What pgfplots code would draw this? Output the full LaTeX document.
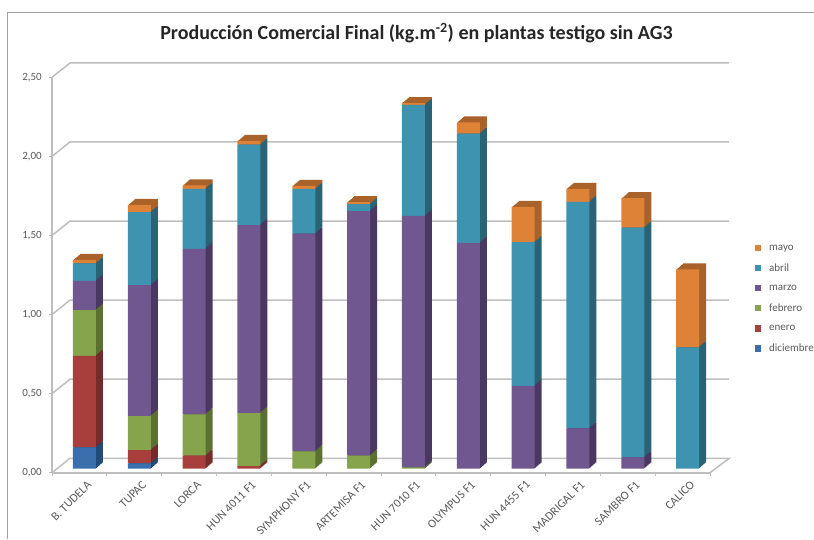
\documentclass[border=0pt]{standalone}
\usepackage{fontspec}
\setmainfont{Carlito}
\usepackage{pgfplots}
\usepackage{pgfplotstable}
\pgfplotsset{compat=1.18}

\definecolor{dicF}{HTML}{3A6FAE}\definecolor{dicS}{HTML}{234B77}
\definecolor{eneF}{HTML}{A93F3C}\definecolor{eneS}{HTML}{742B29}
\definecolor{febF}{HTML}{86A44C}\definecolor{febS}{HTML}{5B7132}
\definecolor{marF}{HTML}{71578F}\definecolor{marS}{HTML}{4A3762}
\definecolor{abrF}{HTML}{3E94B0}\definecolor{abrS}{HTML}{2A6375}
\definecolor{mayF}{HTML}{DE8237}\definecolor{mayS}{HTML}{A8622A}
\definecolor{rejilla}{HTML}{BEBEBE}
\definecolor{texto}{HTML}{5A5A5A}

\pgfplotstableread{
n  dic   ene   feb   mar   abr   may
0  0.135 0.579 0.289 0.185 0.110 0.022
1  0.034 0.084 0.215 0.827 0.463 0.045
2  0     0.082 0.262 1.046 0.379 0.023
3  0     0.017 0.335 1.188 0.509 0.023
4  0     0     0.110 1.377 0.282 0.019
5  0     0     0.082 1.546 0.045 0.012
6  0     0     0.009 1.589 0.702 0.012
7  0     0     0     1.428 0.691 0.071
8  0     0     0     0.524 0.908 0.223
9  0     0     0     0.255 1.432 0.082
10 0     0     0     0.072 1.453 0.185
11 0     0     0     0     0.767 0.493
}\datos

\pgfplotsset{
  plano/.style={scale only axis,width=658pt,height=395.4pt,anchor=south west,
    xmin=-0.5,xmax=11.5,ymin=0,ymax=2.5,clip=false},
  barras/.style={plano,hide axis,ybar stacked,bar width=23pt},
  caja/.style={draw=none,fill=#1,
    legend image code/.code={\fill[#1] (0pt,-3pt) rectangle (6.5pt,3.5pt);}},
}

% una capa de barras apiladas; #1 x, #2 y, #3 sufijo de color
\newcommand{\capa}[3]{%
  \begin{axis}[barras,at={(#1,#2)}]
    \addplot[caja=dic#3] table[x=n,y=dic] {\datos};
    \addplot[caja=ene#3] table[x=n,y=ene] {\datos};
    \addplot[caja=feb#3] table[x=n,y=feb] {\datos};
    \addplot[caja=mar#3] table[x=n,y=mar] {\datos};
    \addplot[caja=abr#3] table[x=n,y=abr] {\datos};
    \addplot[caja=may#3] table[x=n,y=may] {\datos};
  \end{axis}}

\begin{document}
\begin{tikzpicture}
\useasboundingbox (0pt,0pt) rectangle (814pt,539pt);
\draw[gray!75,line width=1pt] (7pt,0pt) -- (7pt,526pt) -- (814pt,526pt);
\node[font=\bfseries\fontsize{20}{23}\selectfont,text=black!85] at (416.5pt,506pt)
  {Producción Comercial Final (kg.m\textsuperscript{-2}) en plantas testigo sin AG3};

% paredes, rejilla y ejes
\begin{axis}[plano,at={(52pt,66.3pt)},
  axis x line=bottom,axis y line=left,
  axis line style={-,rejilla,line width=1.6pt},
  xtick={0,...,11},
  xticklabels={B. TUDELA,TUPAC,LORCA,HUN 4011 F1,SYMPHONY F1,ARTEMISA F1,HUN 7010 F1,OLYMPUS F1,HUN 4455 F1,MADRIGAL F1,SAMBRO F1,CALICO},
  x tick label style={rotate=45,anchor=north east,font=\fontsize{12}{14}\selectfont,text=texto,inner sep=1pt,yshift=-7pt,xshift=3pt},
  major x tick style={draw=none},
  minor xtick={-0.5,0.5,...,11.5},
  minor x tick style={rejilla,line width=1pt},
  minor tick length=3pt,
  ytick={0,0.5,1,1.5,2,2.5},
  y tick label style={font=\fontsize{11}{13}\selectfont,text=texto,inner sep=1pt,xshift=-6pt},
  y tick style={rejilla,line width=1pt},
  tick align=outside,major tick length=3pt,
  /pgf/number format/.cd,use comma,fixed,fixed zerofill,precision=2,assume math mode=true,
  /pgfplots/.cd,unbounded coords=jump]
  \addplot[rejilla,line width=1.5pt] coordinates {
    (-0.5,0) (-0.172,0.091) (11.85,0.091) (11.5,0) (nan,nan)
    (-0.5,0.5) (-0.172,0.591) (11.85,0.591) (nan,nan)
    (-0.5,1) (-0.172,1.091) (11.85,1.091) (nan,nan)
    (-0.5,1.5) (-0.172,1.591) (11.85,1.591) (nan,nan)
    (-0.5,2) (-0.172,2.091) (11.85,2.091) (nan,nan)
    (-0.5,2.5) (-0.172,2.591) (11.85,2.591)
  };
\end{axis}

% caras laterales y superior: copias desplazadas de las barras
\foreach \k in {7,6,5,4,3,2,1}{
  \capa{{(57+\k)*1pt}}{{(70.3+\k*6/7)*1pt}}{S}
}

% cara frontal con la leyenda
\begin{axis}[barras,at={(57pt,70.3pt)},
  reverse legend,
  legend style={draw=none,fill=none,at={(1.06,0.572)},anchor=north west,
    font=\fontsize{11}{13}\selectfont,text=texto,row sep=8.1pt,inner sep=0pt,
    /tikz/column 1/.style={column sep=6pt}},
  legend cell align=left]
  \addplot[caja=dicF] table[x=n,y=dic] {\datos};
  \addplot[caja=eneF] table[x=n,y=ene] {\datos};
  \addplot[caja=febF] table[x=n,y=feb] {\datos};
  \addplot[caja=marF] table[x=n,y=mar] {\datos};
  \addplot[caja=abrF] table[x=n,y=abr] {\datos};
  \addplot[caja=mayF] table[x=n,y=may] {\datos};
  \legend{diciembre,enero,febrero,marzo,abril,mayo}
\end{axis}
\end{tikzpicture}
\end{document}
